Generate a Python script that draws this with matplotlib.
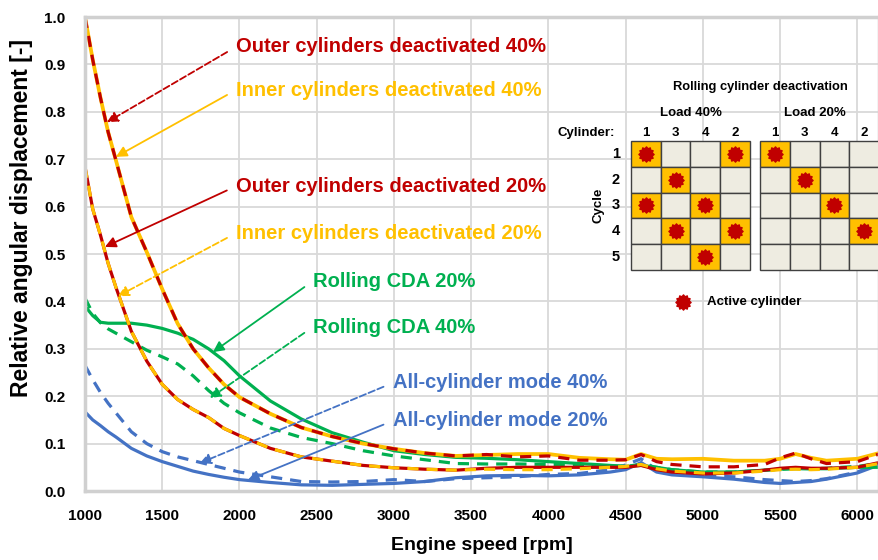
import numpy as np
import matplotlib
matplotlib.use("Agg")
import matplotlib.pyplot as plt
from matplotlib.patches import Rectangle
from matplotlib.path import Path

plt.rcParams['font.family'] = ['Liberation Sans', 'DejaVu Sans']
plt.rcParams['font.weight'] = 'bold'
plt.rcParams['axes.labelweight'] = 'bold'

# ---- data ----
rpm = [1000, 1050, 1100, 1150, 1200, 1300, 1400, 1500, 1600, 1700, 1800, 1900,
       2000, 2200, 2400, 2600, 2800, 3000, 3200, 3400, 3600, 3800, 4000, 4200,
       4400, 4500, 4600, 4700, 4800, 5000, 5200, 5400, 5500, 5600, 5700, 5800,
       6000, 6140]

outer_40 = [1.0, 0.91, 0.83, 0.757, 0.698, 0.578, 0.504, 0.426, 0.353, 0.30, 0.26, 0.225,
            0.198, 0.163, 0.134, 0.115, 0.100, 0.089, 0.080, 0.074, 0.077, 0.072, 0.074, 0.065,
            0.065, 0.066, 0.077, 0.062, 0.056, 0.051, 0.051, 0.056, 0.070, 0.080, 0.068, 0.058,
            0.062, 0.078]
inner_40 = [1.0, 0.91, 0.83, 0.757, 0.698, 0.578, 0.504, 0.426, 0.353, 0.30, 0.26, 0.225,
            0.198, 0.163, 0.134, 0.115, 0.100, 0.089, 0.080, 0.074, 0.076, 0.078, 0.078, 0.070,
            0.067, 0.066, 0.078, 0.068, 0.067, 0.068, 0.064, 0.064, 0.068, 0.078, 0.070, 0.064,
            0.068, 0.080]
outer_20 = [0.684, 0.595, 0.54, 0.48, 0.43, 0.337, 0.274, 0.225, 0.193, 0.172, 0.155, 0.132,
            0.117, 0.090, 0.072, 0.063, 0.054, 0.049, 0.046, 0.044, 0.048, 0.050, 0.050, 0.050,
            0.050, 0.050, 0.054, 0.045, 0.040, 0.036, 0.038, 0.044, 0.048, 0.050, 0.048, 0.048,
            0.050, 0.060]
inner_20 = [0.684, 0.595, 0.54, 0.48, 0.43, 0.337, 0.274, 0.225, 0.193, 0.172, 0.155, 0.132,
            0.117, 0.090, 0.072, 0.063, 0.054, 0.049, 0.046, 0.044, 0.046, 0.045, 0.045, 0.047,
            0.050, 0.052, 0.056, 0.047, 0.042, 0.038, 0.038, 0.042, 0.045, 0.046, 0.045, 0.046,
            0.050, 0.058]
rolling_20 = [0.39, 0.37, 0.356, 0.354, 0.354, 0.354, 0.35, 0.343, 0.333, 0.32, 0.30, 0.275,
              0.243, 0.19, 0.152, 0.123, 0.103, 0.085, 0.077, 0.071, 0.069, 0.066, 0.062, 0.058,
              0.054, 0.052, 0.054, 0.050, 0.045, 0.040, 0.040, 0.044, 0.046, 0.047, 0.047, 0.047,
              0.050, 0.050]
rolling_40 = [0.407, 0.375, 0.355, 0.342, 0.333, 0.315, 0.297, 0.283, 0.268, 0.243, 0.212, 0.185,
              0.165, 0.133, 0.113, 0.100, 0.085, 0.074, 0.066, 0.058, 0.057, 0.057, 0.056, 0.055,
              0.053, 0.052, 0.056, 0.050, 0.045, 0.040, 0.040, 0.044, 0.046, 0.048, 0.047, 0.048,
              0.052, 0.058]
allcyl_40 = [0.265, 0.235, 0.208, 0.185, 0.165, 0.125, 0.10, 0.083, 0.072, 0.064, 0.056, 0.048,
             0.040, 0.030, 0.020, 0.019, 0.020, 0.024, 0.020, 0.026, 0.028, 0.030, 0.035, 0.037,
             0.045, 0.055, 0.068, 0.045, 0.037, 0.032, 0.030, 0.024, 0.022, 0.020, 0.022, 0.026,
             0.040, 0.058]
allcyl_20 = [0.167, 0.15, 0.138, 0.125, 0.114, 0.09, 0.074, 0.062, 0.052, 0.042, 0.035, 0.029,
             0.024, 0.018, 0.013, 0.012, 0.014, 0.016, 0.020, 0.028, 0.032, 0.033, 0.032, 0.034,
             0.040, 0.045, 0.060, 0.040, 0.034, 0.030, 0.025, 0.018, 0.016, 0.018, 0.020, 0.025,
             0.038, 0.055]

# inset: rolling cylinder deactivation pattern (rows = cycles, cols = cylinders 1 3 4 2)
cyl_order = ['1', '3', '4', '2']
pattern_40 = [[1, 0, 0, 1], [0, 1, 0, 0], [1, 0, 1, 0], [0, 1, 0, 1], [0, 0, 1, 0]]
pattern_20 = [[1, 0, 0, 0], [0, 1, 0, 0], [0, 0, 1, 0], [0, 0, 0, 1], [0, 0, 0, 0]]

RED = '#C00000'
YEL = '#FFC000'
GRN = '#00B050'
BLU = '#4472C4'

# rounded splat marker for "active cylinder"
ang = np.linspace(0, 2 * np.pi, 25)
rad = np.where(np.arange(25) % 2 == 0, 1.0, 0.78)
splat = Path(np.column_stack([rad * np.cos(ang), rad * np.sin(ang)]), closed=True)

fig = plt.figure(figsize=(8.79, 5.6), dpi=100)
ax = fig.add_axes([0.0967, 0.1232, 0.9033, 0.8464])

lw = 2.3
dash = (0, (3.5, 2.5))
ax.plot(rpm, allcyl_20, color=BLU, lw=lw)
ax.plot(rpm, allcyl_40, color=BLU, lw=lw, ls=dash)
ax.plot(rpm, rolling_20, color=GRN, lw=lw)
ax.plot(rpm, rolling_40, color=GRN, lw=lw, ls=dash)
ax.plot(rpm, outer_20, color=RED, lw=lw)
ax.plot(rpm, inner_20, color=YEL, lw=lw, ls=dash)
ax.plot(rpm, inner_40, color=YEL, lw=lw + 0.4)
ax.plot(rpm, outer_40, color=RED, lw=lw, ls=dash)

ax.set_xlim(1000, 6140)
ax.set_ylim(0, 1.0)
ax.set_xticks(np.arange(1000, 6001, 500))
ax.set_yticks(np.arange(0, 1.01, 0.1))
ax.yaxis.set_major_formatter(matplotlib.ticker.FormatStrFormatter('%.1f'))
ax.tick_params(length=0, labelsize=11)
ax.tick_params(axis='x', pad=13)
ax.tick_params(axis='y', pad=14)
ax.grid(True, color='#D9D9D9', lw=1.3)
ax.set_axisbelow(True)
for s in ax.spines.values():
    s.set_color('#D0D0D0')
    s.set_linewidth(2.5)
ax.set_xlabel('Engine speed [rpm]', fontsize=14, labelpad=10)
ax.set_ylabel('Relative angular displacement [-]', fontsize=16.5)
ax.yaxis.set_label_coords(-0.066, 0.575)

# annotations: (text, text pos, arrow tip, colour, linestyle)
notes = [
    ('Outer cylinders deactivated 40%', (1977, 0.937), (1142, 0.778), RED, '--'),
    ('Inner cylinders deactivated 40%', (1977, 0.846), (1200, 0.705), YEL, '-'),
    ('Outer cylinders deactivated 20%', (1977, 0.643), (1129, 0.515), RED, '-'),
    ('Inner cylinders deactivated 20%', (1977, 0.544), (1213, 0.411), YEL, '--'),
    ('Rolling CDA 20%', (2475, 0.443), (1828, 0.293), GRN, '-'),
    ('Rolling CDA 40%', (2475, 0.346), (1808, 0.196), GRN, '--'),
    ('All-cylinder mode 40%', (2992, 0.228), (1744, 0.059), BLU, '--'),
    ('All-cylinder mode 20%', (2992, 0.148), (2054, 0.023), BLU, '-'),
]
for txt, pos, tip, c, ls in notes:
    ax.annotate(txt, xy=tip, xytext=pos, color=c, fontsize=14.5, ha='left', va='center',
                arrowprops=dict(arrowstyle='-|>', color=c, lw=1.3, ls=ls,
                                mutation_scale=16, shrinkA=5, shrinkB=0,
                                relpos=(0, 0.5)))

# ---- inset ----
gap = 0.34
ins = fig.add_axes([0.7179, 0.5179, 0.2821, 0.2304])
ins.set_xlim(0, 8 + gap)
ins.set_ylim(5, 0)
ins.axis('off')
ins.patch.set_alpha(0)
for k, pat in enumerate([pattern_40, pattern_20]):
    x0 = k * (4 + gap)
    for r, row in enumerate(pat):
        for cidx, on in enumerate(row):
            ins.add_patch(Rectangle((x0 + cidx, r), 1, 1,
                                    facecolor=YEL if on else '#EEECE1',
                                    edgecolor='#404040', lw=1.0, clip_on=False))
            if on:
                ins.scatter(x0 + cidx + 0.5, r + 0.5, marker=splat, s=120,
                            color=RED, zorder=3, clip_on=False)
    for cidx, lab in enumerate(cyl_order):
        ins.text(x0 + cidx + 0.5, -0.31, lab, ha='center', va='center', fontsize=9.5,
                 clip_on=False)
for r in range(5):
    ins.text(-0.37, r + 0.5, str(r + 1), ha='right', va='center', fontsize=10.5)
ins.text(-0.54, -0.31, 'Cylinder:', ha='right', va='center', fontsize=9.5)
ins.text(-1.11, 2.48, 'Cycle', ha='center', va='center', rotation=90, fontsize=9.5)
ins.text(2.0, -1.09, 'Load 40%', ha='center', va='center', fontsize=9.5)
ins.text(6.2, -1.09, 'Load 20%', ha='center', va='center', fontsize=9.5)
ins.text(4.34, -2.09, 'Rolling cylinder deactivation', ha='center', va='center', fontsize=9.3)
ins.scatter(1.75, 6.24, marker=splat, s=120, color=RED, clip_on=False)
ins.text(2.56, 6.24, 'Active cylinder', ha='left', va='center', fontsize=9.5)

fig.savefig('out.png', dpi=100)
